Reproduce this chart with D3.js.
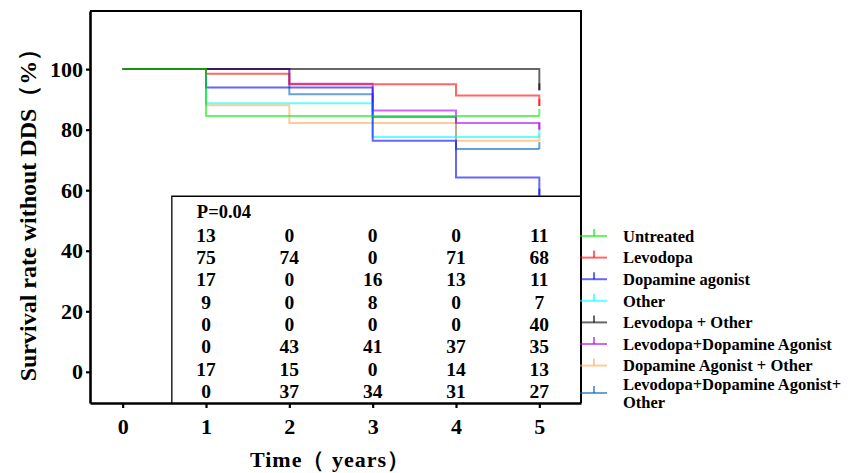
<!doctype html>
<html>
<head>
<meta charset="utf-8">
<script src="https://d3js.org/d3.v7.min.js"></script>
<style>
body { margin: 0; background: #fff; }
text { font-family: "Liberation Serif", "Times New Roman", serif; font-weight: bold; fill: #000; }
</style>
</head>
<body>
<svg width="859" height="473" class="chart"></svg>
<script>
// groups, in legend order
var groups = ["Untreated", "Levodopa", "Dopamine agonist", "Other", "Levodopa + Other",
              "Levodopa+Dopamine Agonist", "Dopamine Agonist + Other", "Levodopa+Dopamine Agonist+Other"];
var colors = ["#00ee00", "#ff0000", "#0000ff", "#00ffff", "#000000", "#aa00ff", "#ffaa55", "#0066b8"];

// time points (years)
var times = [0, 1, 2, 3, 4, 5];

// survival without DDS (%), value after each time point
var untreated       = [100, 84.5, 84.5, 84.5, 84.5, 84.5];
var levodopa        = [100, 98.5, 95.0, 95.0, 91.3, 87.8];
var dopamineAgonist = [100, 93.9, 93.9, 76.3, 64.2, 58.2];
var other           = [100, 88.7, 88.7, 77.6, 77.6, 77.6];
var levodopaOther   = [100, 100, 100, 100, 100, 93.0];
var levodopaDA      = [100, 100, 95.2, 86.3, 82.2, 80.0];
var daOther         = [100, 88.1, 82.2, 82.2, 76.3, 76.3];
var levodopaDAOther = [100, 100, 91.7, 84.2, 73.6, 73.6];

// numbers in the table, years 1..5
var tableYears = [1, 2, 3, 4, 5];
var riskUntreated       = [13, 0, 0, 0, 11];
var riskLevodopa        = [75, 74, 0, 71, 68];
var riskDopamineAgonist = [17, 0, 16, 13, 11];
var riskOther           = [9, 0, 8, 0, 7];
var riskLevodopaOther   = [0, 0, 0, 0, 40];
var riskLevodopaDA      = [0, 43, 41, 37, 35];
var riskDaOther         = [17, 15, 0, 14, 13];
var riskLevodopaDAOther = [0, 37, 34, 31, 27];

var pValue = "P=0.04";
var xTicks = [0, 1, 2, 3, 4, 5];
var yTicks = [0, 20, 40, 60, 80, 100];

var curves = [untreated, levodopa, dopamineAgonist, other, levodopaOther, levodopaDA, daOther, levodopaDAOther];
var risks = [riskUntreated, riskLevodopa, riskDopamineAgonist, riskOther, riskLevodopaOther, riskLevodopaDA, riskDaOther, riskLevodopaDAOther];

var svg = d3.select(".chart");
var plotLeft = 90, plotRight = 581, plotTop = 11, plotBottom = 403;

var xScale = d3.scaleLinear().domain([-0.392, 5.5]).range([plotLeft, plotRight]),
    yScale = d3.scaleLinear().domain([-10.3, 119.2]).range([plotBottom, plotTop]);

// frame top + right
svg.append("path")
    .attr("d", "M" + plotLeft + "," + plotTop + "H" + plotRight + "V" + plotBottom)
    .style("fill", "none").style("stroke", "#000").style("stroke-width", 2);

// risk table box
var boxX = xScale(0.59), boxY = yScale(58);
svg.append("path")
    .attr("d", "M" + boxX + "," + plotBottom + "V" + boxY + "H" + plotRight)
    .style("fill", "none").style("stroke", "#000").style("stroke-width", 1.3);

// curves
var line = d3.line()
    .x(function(d) { return xScale(d[0]); })
    .y(function(d) { return yScale(d[1]); })
    .curve(d3.curveStepAfter);

var drawOrder = [7, 6, 5, 3, 2, 1, 4, 0];
drawOrder.forEach(function(i) {
    var pts = times.map(function(t, j) { return [t, curves[i][j]]; });
    svg.append("path")
        .datum(pts)
        .attr("d", line)
        .style("fill", "none")
        .style("stroke", colors[i])
        .style("stroke-opacity", 0.6)
        .style("stroke-width", 2);
    // censor tick at the end
    var last = pts[pts.length - 1];
    svg.append("line")
        .attr("x1", xScale(last[0])).attr("x2", xScale(last[0]))
        .attr("y1", yScale(last[1])).attr("y2", yScale(last[1]) - 7)
        .style("stroke", colors[i])
        .style("stroke-opacity", 0.6)
        .style("stroke-width", 2);
});

// axes
var yAxis = svg.append("g")
    .attr("transform", "translate(" + plotLeft + ",0)")
    .call(d3.axisLeft(yScale).tickValues(yTicks).tickSize(4).tickSizeOuter(0).tickPadding(3).tickFormat(d3.format("d")));
var xAxis = svg.append("g")
    .attr("transform", "translate(0," + plotBottom + ")")
    .call(d3.axisBottom(xScale).tickValues(xTicks).tickSize(5).tickSizeOuter(0).tickPadding(10).tickFormat(d3.format("d")));

[yAxis, xAxis].forEach(function(a) {
    a.select(".domain").style("stroke", "#000").style("stroke-width", 2.6);
    a.selectAll(".tick line").style("stroke", "#000").style("stroke-width", 2.2);
    a.selectAll(".tick text")
        .style("font-family", "'Liberation Serif', 'Times New Roman', serif")
        .style("font-weight", "bold")
        .style("font-size", "22px")
        .style("fill", "#000");
});

// axis titles
svg.append("text")
    .attr("text-anchor", "middle")
    .attr("transform", "translate(36,209)rotate(-90)")
    .style("font-size", "24px")
    .text("Survival rate without DDS（%）");

svg.append("text")
    .attr("x", 330)
    .attr("y", 467)
    .attr("text-anchor", "middle")
    .style("font-size", "22px")
    .style("letter-spacing", "1px")
    .text("Time（ years）");

// table
svg.append("text")
    .attr("x", xScale(0.89))
    .attr("y", 218)
    .style("font-size", "18.5px")
    .text(pValue);

var rowY = function(i) { return 235 + i * 22.3; };
risks.forEach(function(r, i) {
    svg.append("g").selectAll("text")
        .data(r)
        .join("text")
        .attr("x", function(d, j) { return xScale(tableYears[j]); })
        .attr("y", rowY(i))
        .attr("dy", "0.35em")
        .attr("text-anchor", "middle")
        .style("font-size", "19.5px")
        .text(function(d) { return d; });
});

// legend
var legY = function(i) { return i < 7 ? 236 + i * 21.6 : 393; };
groups.forEach(function(name, i) {
    var y = legY(i);
    var g = svg.append("g");
    g.append("line")
        .attr("x1", 580).attr("x2", 607).attr("y1", y).attr("y2", y)
        .style("stroke", colors[i]).style("stroke-opacity", 0.6).style("stroke-width", 2);
    g.append("line")
        .attr("x1", 594).attr("x2", 594).attr("y1", y).attr("y2", y - 7)
        .style("stroke", colors[i]).style("stroke-opacity", 0.6).style("stroke-width", 2);
    var lines = name.length > 28 ? [name.slice(0, name.lastIndexOf("+") + 1), name.slice(name.lastIndexOf("+") + 1)] : [name];
    lines.forEach(function(t, k) {
        g.append("text")
            .attr("x", 623)
            .attr("y", y + (k - (lines.length - 1) / 2) * 18.5)
            .attr("dy", "0.35em")
            .style("font-size", "16.5px")
            .text(t);
    });
});
</script>
</body>
</html>
